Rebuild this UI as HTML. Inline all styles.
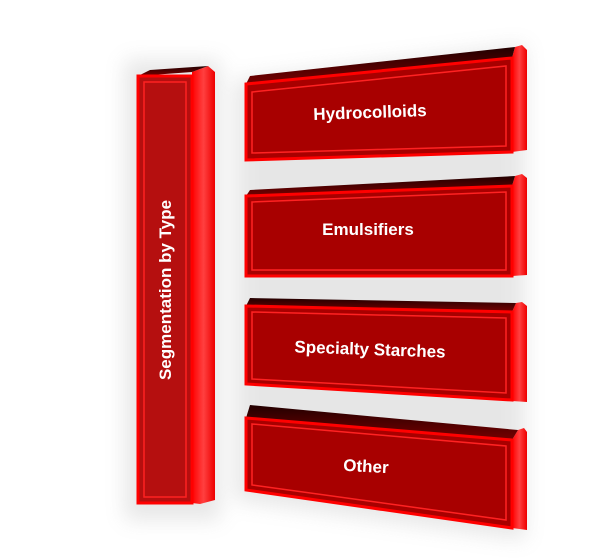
<!DOCTYPE html>
<html><head><style>body{margin:0;background:#fff}svg{display:block}</style></head><body>
<svg width="602" height="558" xmlns="http://www.w3.org/2000/svg" font-family="Liberation Sans, sans-serif">
<defs>
<filter id="sh" x="-20%" y="-20%" width="140%" height="140%"><feGaussianBlur stdDeviation="10"/></filter>
<linearGradient id="tp" x1="0" y1="0" x2="0" y2="1"><stop offset="0" stop-color="#200"/><stop offset="1" stop-color="#700"/></linearGradient>
<linearGradient id="sd" x1="0" y1="0" x2="1" y2="0"><stop offset="0" stop-color="#f00"/><stop offset="0.5" stop-color="#ff4040"/><stop offset="1" stop-color="#e00"/></linearGradient>
</defs>
<g opacity="0.2" filter="url(#sh)" fill="#888">
<rect x="125" y="60" width="95" height="460"/>
<polygon points="235,80 525,45 525,540 235,500"/>
</g>
<!-- vertical bar -->
<polygon points="192,72 208,66 215,72 215,500 200,504 192,503" fill="url(#sd)"/>
<polygon points="138,76 192,72 208,66 150,70" fill="url(#tp)"/>
<rect x="138" y="76" width="54" height="427" fill="#b50f0f" stroke="#f00" stroke-width="3"/>
<rect x="144" y="82" width="42" height="415" fill="none" stroke="#f22" stroke-width="1.5"/>
<text transform="translate(171,290) rotate(-90)" text-anchor="middle" fill="#fff" font-size="17" font-weight="bold">Segmentation by Type</text>

<!-- box1 -->
<polygon points="512,58 515,47 522,45 527,50 527,150 512,152" fill="url(#sd)"/>
<polygon points="246,84 512,58 515,47 250,76" fill="url(#tp)"/>
<polygon points="246,84 512,58 512,152 246,160" fill="#a80000" stroke="#f00" stroke-width="3"/>
<polygon points="252,92 506,66 506,146 252,153" fill="none" stroke="#f22" stroke-width="1.5"/>
<text x="370" y="118" text-anchor="middle" fill="#fff" font-size="17" font-weight="bold" transform="rotate(-2 370 112)">Hydrocolloids</text>

<!-- box2 -->
<polygon points="512,186 515,176 522,174 527,178 527,275 512,276" fill="url(#sd)"/>
<polygon points="246,196 512,186 515,176 250,190" fill="url(#tp)"/>
<polygon points="246,196 512,186 512,276 246,276" fill="#a80000" stroke="#f00" stroke-width="3"/>
<polygon points="252,202 506,192 506,270 252,270" fill="none" stroke="#f22" stroke-width="1.5"/>
<text x="368" y="235" text-anchor="middle" fill="#fff" font-size="17" font-weight="bold">Emulsifiers</text>

<!-- box3 -->
<polygon points="512,312 516,303 522,302 527,306 527,402 512,401" fill="url(#sd)"/>
<polygon points="246,306 512,312 516,303 250,298" fill="url(#tp)"/>
<polygon points="246,306 512,312 512,400 246,384" fill="#a80000" stroke="#f00" stroke-width="3"/>
<polygon points="252,312 506,318 506,393 252,379" fill="none" stroke="#f22" stroke-width="1.5"/>
<text x="370" y="355" text-anchor="middle" fill="#fff" font-size="17" font-weight="bold" transform="rotate(2 370 350)">Specialty Starches</text>

<!-- box4 -->
<polygon points="512,440 518,430 524,428 527,432 527,530 512,528" fill="url(#sd)"/>
<polygon points="246,418 512,440 518,430 250,405" fill="url(#tp)"/>
<polygon points="246,418 512,440 512,528 246,490" fill="#a80000" stroke="#f00" stroke-width="3"/>
<polygon points="252,424 506,446 506,520 252,485" fill="none" stroke="#f22" stroke-width="1.5"/>
<text x="366" y="472" text-anchor="middle" fill="#fff" font-size="17" font-weight="bold" transform="rotate(3 366 466)">Other</text>
</svg>
</body></html>
